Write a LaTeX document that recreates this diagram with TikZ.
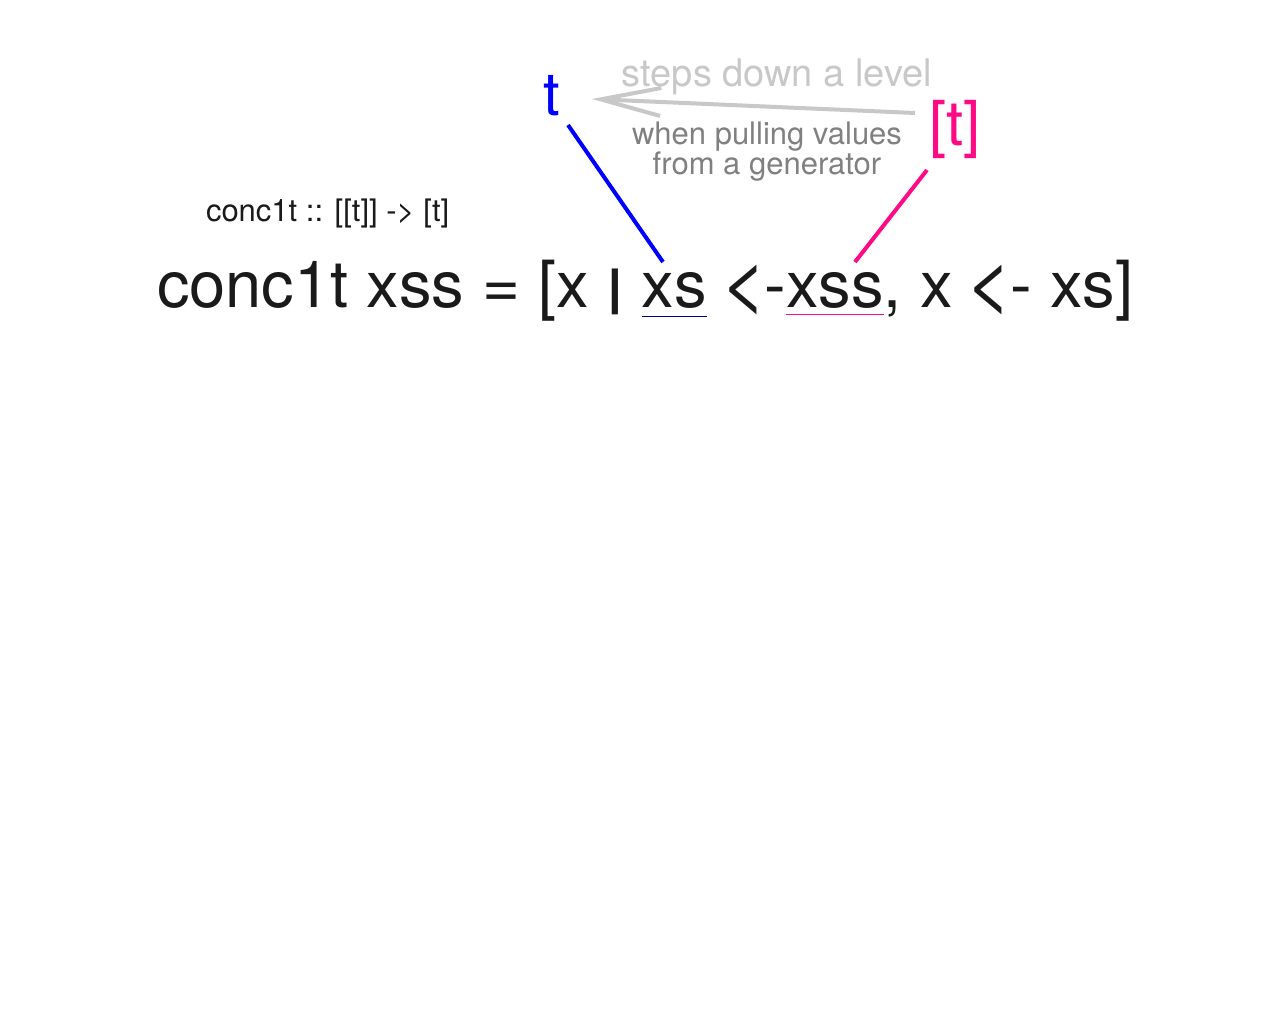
\documentclass[tikz,border=0pt]{standalone}
\usepackage{fontspec}
\setmainfont{TeX Gyre Heros}
\usetikzlibrary{arrows.meta}
\definecolor{ink}{HTML}{1A1A1A}
\definecolor{lgray}{HTML}{C8C8C8}
\definecolor{mgray}{HTML}{808080}
\definecolor{pinkc}{HTML}{FF0A85}
\definecolor{navyc}{HTML}{000080}
\newcommand{\biglt}{\makebox[\fontcharwd\font`\<]{\raisebox{-2pt}{\scalebox{1.25}[1.2]{<}}}\kern2pt}
\newcommand{\shortbar}{\makebox[\fontcharwd\font`\|]{\raisebox{3pt}{\scalebox{1.4}[0.75]{|}}}}
\begin{document}
\begin{tikzpicture}[x=1pt,y=1pt,
  every node/.style={inner sep=0pt,outer sep=0pt},
  maintext/.style={anchor=base west,text=ink,font=\fontsize{65}{78}\selectfont},
  sig/.style={anchor=base west,text=ink,font=\fontsize{31}{37}\selectfont},
  note/.style={text=mgray,font=\fontsize{31}{36}\selectfont,align=center},
  link/.style={line width=4pt},
  uline/.style={line width=1pt}]
\useasboundingbox (0,0) rectangle (1280,-1024);
\fill[white] (0,0) rectangle (1280,-1024);
% type signature
\node[sig] (sig) at (206,-222) {conc1t :: [[t]] -> [t]};
% main equation
\node[maintext] (p1) at (157,-308) {conc1t xss = [x \shortbar\ \hbox{}};
\node[maintext] (xs) at (p1.base east) {xs};
\node[maintext] (p2) at (xs.base east) {\ \biglt-};
\node[maintext] (xss) at (p2.base east) {xss};
\node[maintext] (p3) at (xss.base east) {, x \biglt- xs]};
% type labels
\node[anchor=base west,text=blue,font=\fontsize{60}{70}\selectfont] (t) at (543,-116) {t};
\node[anchor=base west,text=pinkc,font=\fontsize{62}{72}\selectfont] (lt) at (929,-146) {[t]};
% annotations
\node[anchor=base,text=lgray,font=\fontsize{38}{44}\selectfont] (steps) at (777,-87) {steps down a level};
\node[note,anchor=base] (when) at (767,-145) {when pulling values};
\node[note,anchor=base] (from) at (767,-175) {from a generator};
% arrow
\coordinate (arrS) at (915,-113);
\coordinate (arrE) at (592,-99);
\draw[lgray,line width=4pt,-{Straight Barb[length=60pt,width=28pt,line width=4pt]}] (arrS) -- (arrE);
% connectors
\coordinate (bA) at (568,-125);
\coordinate (bB) at (663,-262);
\draw[link,blue] (bA) -- (bB);
\coordinate (pA) at (927,-170);
\coordinate (pB) at (855,-262);
\draw[link,pinkc] (pA) -- (pB);
% underlines
\draw[uline,navyc] ([yshift=-9pt]xs.base west) -- ([yshift=-9pt]xs.base east);
\draw[uline,pinkc] ([yshift=-7pt]xss.base west) -- ([yshift=-7pt]xss.base east);
\end{tikzpicture}
\end{document}
